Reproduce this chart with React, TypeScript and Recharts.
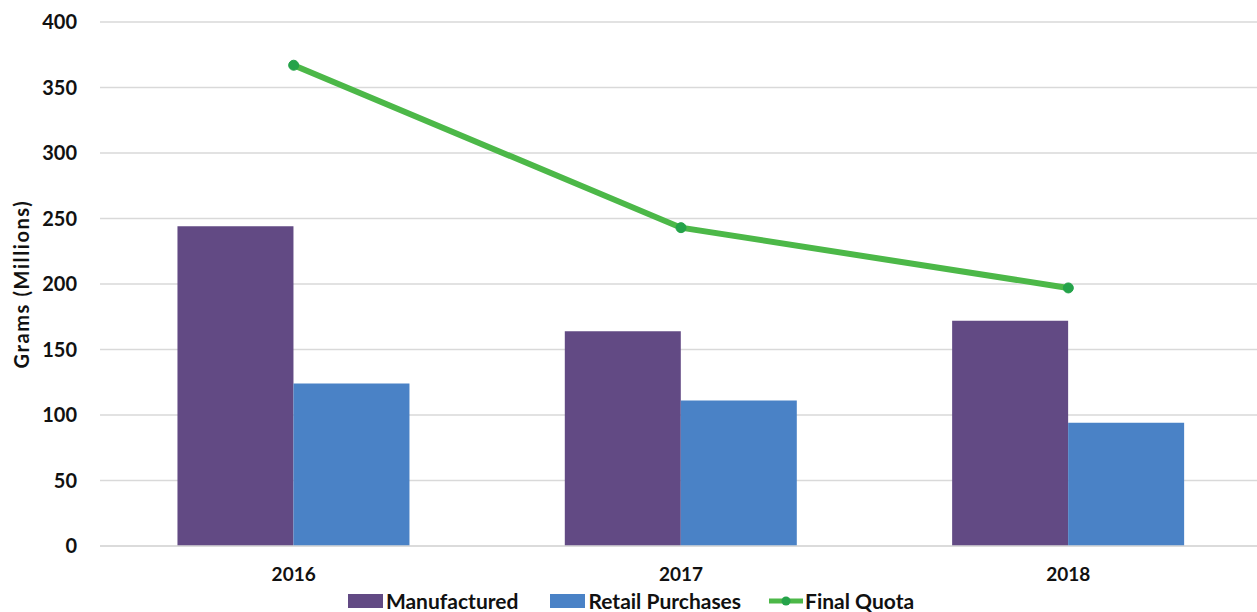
import React from "react";
import { ComposedChart, Bar, Line, XAxis, YAxis, CartesianGrid, Legend } from "recharts";

const years = ["2016", "2017", "2018"];
const manufactured = [244, 164, 172];
const retailPurchases = [124, 111, 94];
const finalQuota = [367, 243, 197];
const yTicks = [0, 50, 100, 150, 200, 250, 300, 350, 400];

const data = years.map((y, i) => ({
  year: y,
  manufactured: manufactured[i],
  retail: retailPurchases[i],
  quota: finalQuota[i],
}));

const PURPLE = "#624a84";
const BLUE = "#4a82c6";
const GREEN = "#4cb848";
const DOT = "#25a34a";
const FONT = "Lato, 'Open Sans', sans-serif";

const LegendContent = () => (
  <div
    style={{
      display: "flex",
      justifyContent: "center",
      alignItems: "center",
      fontFamily: FONT,
      fontWeight: 700,
      fontSize: 21,
      lineHeight: "22px",
      height: 22,
      color: "#111",
      width: 1262,
      boxSizing: "border-box",
    }}
  >
    <span style={{ display: "flex", alignItems: "center", marginRight: 32 }}>
      <span style={{ display: "inline-block", width: 35, height: 14, background: PURPLE, marginRight: 3 }} />
      Manufactured
    </span>
    <span style={{ display: "flex", alignItems: "center", marginRight: 28 }}>
      <span style={{ display: "inline-block", width: 35, height: 14, background: BLUE, marginRight: 3 }} />
      Retail Purchases
    </span>
    <span style={{ display: "flex", alignItems: "center" }}>
      <svg width={34} height={14} style={{ marginRight: 2 }}>
        <line x1={0} y1={7} x2={34} y2={7} stroke={GREEN} strokeWidth={5} />
        <circle cx={17} cy={7} r={4.5} fill={DOT} />
      </svg>
      Final Quota
    </span>
  </div>
);

export default function App() {
  return (
    <div style={{ position: "absolute", left: 0, top: 0, width: 1257, height: 612, overflow: "hidden", background: "#fff" }}>
      <ComposedChart
        width={1262}
        height={612}
        data={data}
        margin={{ top: 22, right: 0, left: 0, bottom: 0 }}
        barGap={0}
        barCategoryGap="20%"
      >
        <CartesianGrid vertical={false} stroke="#d9d9d9" strokeWidth={1.5} />
        <XAxis
          dataKey="year"
          tickLine={false}
          axisLine={{ stroke: "#d9d9d9", strokeWidth: 1.5 }}
          tickSize={0}
          tickMargin={22}
          height={44}
          tick={{ fontFamily: FONT, fontWeight: 700, fontSize: 19, fill: "#111" }}
        />
        <YAxis
          domain={[0, 400]}
          ticks={yTicks}
          width={100}
          tickLine={false}
          axisLine={false}
          tickSize={0}
          tickMargin={23}
          tick={{ fontFamily: FONT, fontWeight: 700, fontSize: 20, fill: "#111" }}
          label={{
            value: "Grams (Millions)",
            angle: -90,
            position: "insideLeft",
            offset: 22,
            style: { fontFamily: FONT, fontWeight: 700, fontSize: 20, letterSpacing: 1.6, fill: "#111", textAnchor: "middle" },
          }}
        />
        <Legend content={<LegendContent />} verticalAlign="bottom" height={22} wrapperStyle={{ left: 0, bottom: 0 }} />
        <Bar dataKey="manufactured" name="Manufactured" fill={PURPLE} isAnimationActive={false} />
        <Bar dataKey="retail" name="Retail Purchases" fill={BLUE} isAnimationActive={false} />
        <Line
          dataKey="quota"
          name="Final Quota"
          stroke={GREEN}
          strokeWidth={6}
          dot={{ r: 5, fill: DOT, stroke: DOT, strokeWidth: 1 }}
          isAnimationActive={false}
        />
      </ComposedChart>
    </div>
  );
}
